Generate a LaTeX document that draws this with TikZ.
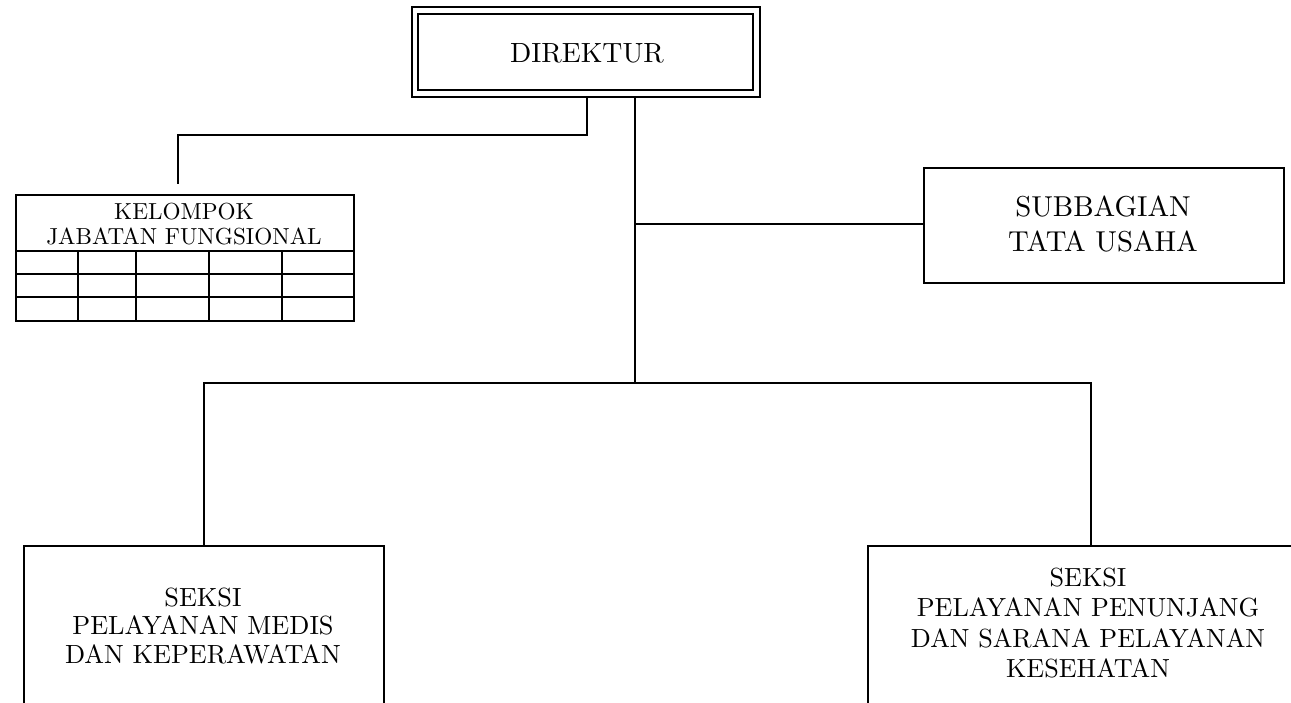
\documentclass[tikz,border=0pt]{standalone}
\usepackage{fontspec}
\newfontfamily\lmten{lmroman10-regular.otf}
\begin{document}
\begin{tikzpicture}[x=1pt,y=-1pt,
  line width=1.4pt,
  box/.style={draw, line width=1.6pt, inner sep=0pt, rectangle},
  lbl/.style={align=center, inner sep=0pt, font=#1},
  conn/.style={line width=1.4pt, line cap=rect}]
\useasboundingbox (0,0) rectangle (1291,702);
\clip (0,0) rectangle (1291,702);
% DIREKTUR (double frame)
\node[box, line width=1.3pt, minimum width=348pt, minimum height=90pt] (dirout) at (586,52) {};
\node[box, line width=2pt, minimum width=335pt, minimum height=76pt] (dir) at (585.5,52) {};
\node[lbl={\lmten\fontsize{27.8}{33}\selectfont}] (dirt) at (587,53) {DIREKTUR};
% KELOMPOK JABATAN FUNGSIONAL table
\node[box, minimum width=338pt, minimum height=126pt, anchor=north west] (kjf) at (15,194) {};
\node[lbl={\lmten\fontsize{23.2}{25}\selectfont}] (kjft) at (184,224) {KELOMPOK\\JABATAN FUNGSIONAL};
\coordinate (r1) at (15,251);
\coordinate (r2) at (15,274);
\coordinate (r3) at (15,297);
\draw[line width=1.6pt] (r1) -- (r1 -| kjf.east);
\draw[line width=1.6pt] (r2) -- (r2 -| kjf.east);
\draw[line width=1.6pt] (r3) -- (r3 -| kjf.east);
\foreach \cx in {78,136,209,282}{
  \draw[line width=1.6pt] (\cx,251) -- (\cx,320);
}
% SUBBAGIAN TATA USAHA
\node[box, minimum width=360pt, minimum height=115pt, anchor=north west] (sub) at (923,167) {};
\node[lbl={\lmten\fontsize{28.8}{35}\selectfont}] (subt) at (1103,224) {SUBBAGIAN\\TATA USAHA};
% Bottom boxes (run off the page)
\node[box, minimum width=360pt, minimum height=200pt, anchor=north west] (med) at (23,545) {};
\node[lbl={\lmten\fontsize{26.3}{28.5}\selectfont}] (medt) at (203,626) {SEKSI\\PELAYANAN MEDIS\\DAN KEPERAWATAN};
\node[box, minimum width=460pt, minimum height=200pt, anchor=north west] (pen) at (867,545) {};
\node[lbl={\lmten\fontsize{26.2}{30.5}\selectfont}] (pent) at (1088,623) {SEKSI\\PELAYANAN PENUNJANG\\DAN SARANA PELAYANAN\\KESEHATAN};
% Connectors
\coordinate (a1) at (587,97);
\coordinate (a2) at (587,135);
\coordinate (a3) at (178,135);
\coordinate (a4) at (178,183);
\draw[conn] (a1) -- (a2) -- (a3) -- (a4);
\coordinate (m1) at (635,97);
\coordinate (m2) at (635,383);
\draw[conn] (m1) -- (m2);
\coordinate (tu) at (635,224);
\draw[conn] (tu) -- (tu -| sub.west);
\coordinate (hl) at (204,383);
\coordinate (hr) at (1091,383);
\draw[conn] (hl) -- (hr);
\draw[conn] (hl) -- (hl |- med.north);
\draw[conn] (hr) -- (hr |- pen.north);
\end{tikzpicture}
\end{document}
